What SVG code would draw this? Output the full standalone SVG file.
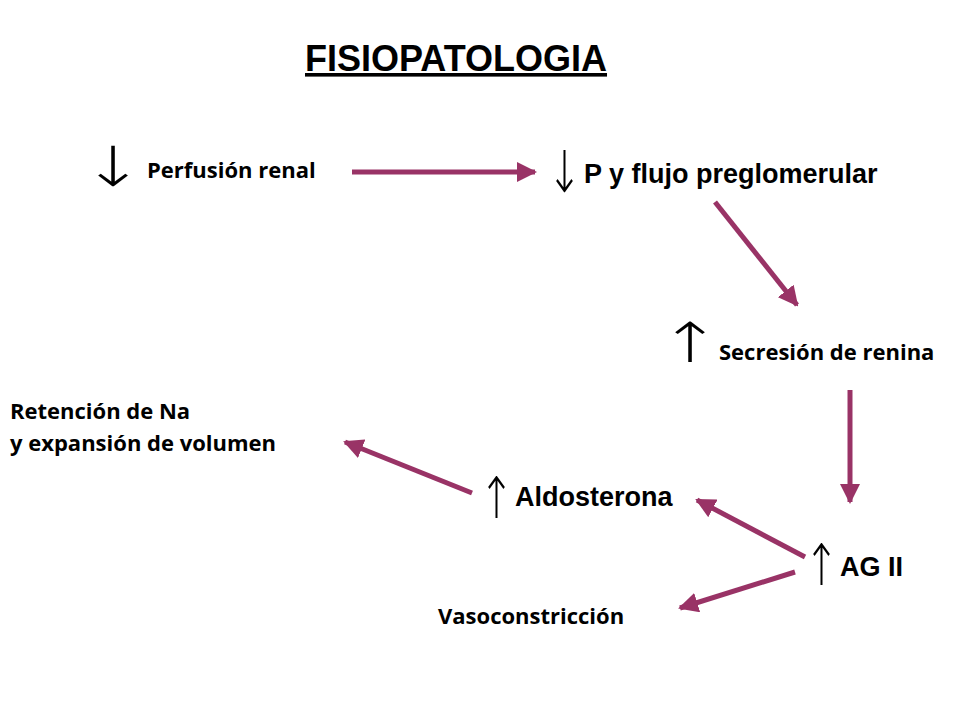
<svg xmlns="http://www.w3.org/2000/svg" width="960" height="720" viewBox="0 0 960 720">
<style>
.t{font-family:"Open Sans","Liberation Sans",sans-serif;font-weight:bold;font-size:22px;fill:#000}
.a{font-family:"Liberation Sans",Arial,sans-serif;font-weight:bold;font-size:27px;fill:#000}
.g{font-family:"DejaVu Sans",sans-serif;font-weight:200;font-size:46px;fill:#000}
.c{stroke:#993366;stroke-width:5;fill:none;marker-end:url(#h)}
</style>
<defs><marker id="h" markerWidth="4" markerHeight="4" refX="3.6" refY="2" orient="auto" markerUnits="strokeWidth"><path d="M0,0 L4,2 L0,4 z" fill="#993366"/></marker></defs>
<rect width="960" height="720" fill="#fff"/>
<text x="305" y="71" style="font-family:'Liberation Sans',Arial,sans-serif;font-weight:bold;font-size:36px;text-decoration:underline">FISIOPATOLOGIA</text>
<g id="n1"><text class="g" transform="translate(82,186) scale(1.6,1.2)">↓</text><text class="t" x="147" y="178">Perfusión renal</text></g>
<g id="n2"><text class="g" transform="translate(547,192) scale(0.9,1.25)">↓</text><text class="a" x="584" y="183">P y flujo preglomerular</text></g>
<g id="n3"><text class="g" transform="translate(659,362) scale(1.6,1.2)">↑</text><text class="t" x="719" y="360">Secresión de renina</text></g>
<g id="n4"><text class="t" x="10" y="419">Retención de Na</text><text class="t" x="10" y="451">y expansión de volumen</text></g>
<g id="n5"><text class="g" transform="translate(479,518) scale(0.9,1.25)">↑</text><text class="a" x="515" y="506">Aldosterona</text></g>
<g id="n6"><text class="g" transform="translate(804,585) scale(0.9,1.25)">↑</text><text class="a" x="840" y="576">AG II</text></g>
<g id="n7"><text class="t" x="438" y="624">Vasoconstricción</text></g>
<g id="edges">
<line class="c" x1="352" y1="172" x2="535" y2="172"/>
<line class="c" x1="715" y1="202" x2="797" y2="305"/>
<line class="c" x1="850" y1="390" x2="850" y2="502"/>
<line class="c" x1="805" y1="557" x2="697" y2="500"/>
<line class="c" x1="472" y1="493" x2="345" y2="442"/>
<line class="c" x1="795" y1="572" x2="680" y2="608"/>
</g>
</svg>
